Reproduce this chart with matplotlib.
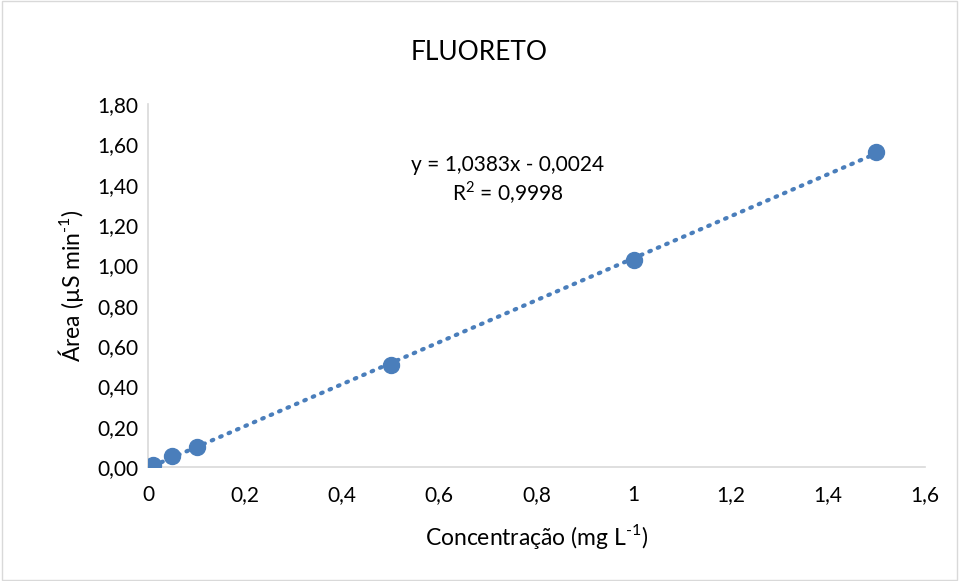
import numpy as np
import matplotlib
matplotlib.use('Agg')
import matplotlib.pyplot as plt
from matplotlib.ticker import FuncFormatter

plt.rcParams['font.family'] = ['Lato', 'DejaVu Sans']
plt.rcParams['axes.unicode_minus'] = False
plt.rcParams['mathtext.fontset'] = 'custom'
plt.rcParams['mathtext.rm'] = 'Lato'

# calibration data
conc = [0.01, 0.05, 0.1, 0.5, 1.0, 1.5]
area = [0.008, 0.053, 0.098, 0.508, 1.027, 1.563]
eq_text = 'y = 1,0383x - 0,0024'
r2_text = 'R$^{\\text{2}}$ = 0,9998'

fig = plt.figure(figsize=(9.59, 5.81), dpi=100)
ax = fig.add_axes([0.1543, 0.1962, 0.8102, 0.6248])

blue = '#4A7EBB'

# linear trendline
coef = np.polyfit(conc, area, 1)
xl = np.array([min(conc), max(conc)])
ax.plot(xl, np.polyval(coef, xl), color=blue, lw=3.0,
        linestyle=(0, (0.4, 1.8)), dash_capstyle='round', zorder=2)
ax.plot(conc, area, 'o', color=blue, markersize=11.5, zorder=3)

ax.set_xlim(0, 1.6)
ax.set_ylim(0, 1.8)
ax.set_xticks(np.arange(0, 1.61, 0.2))
ax.set_yticks(np.arange(0, 1.81, 0.2))
ax.xaxis.set_major_formatter(FuncFormatter(lambda v, p: ('%g' % round(v, 2)).replace('.', ',')))
ax.yaxis.set_major_formatter(FuncFormatter(lambda v, p: ('%.2f' % v).replace('.', ',')))
ax.tick_params(length=0, labelsize=15, colors='#000000', pad=7)
ax.tick_params(axis='x', pad=13)

for s in ['top', 'right']:
    ax.spines[s].set_visible(False)
for s in ['left', 'bottom']:
    ax.spines[s].set_color('#D9D9D9')
    ax.spines[s].set_linewidth(1.2)

ax.set_xlabel('Concentração (mg L$^{\\text{-1}}$)', fontsize=16.5, labelpad=12)
ax.set_ylabel('Área (µS min$^{\\text{-1}}$)', fontsize=16.5, labelpad=8)

ax.text(0.741, 1.497, eq_text, ha='center', va='center', fontsize=15)
ax.text(0.741, 1.358, r2_text, ha='center', va='center', fontsize=15)

fig.text(0.5, 0.91, 'FLUORETO', ha='center', va='center', fontsize=19)

fig.patches.append(plt.Rectangle((0.002, 0.002), 0.996, 0.996, transform=fig.transFigure,
                                 fill=False, edgecolor='#D9D9D9', lw=1))

fig.savefig('out.png', dpi=100)
